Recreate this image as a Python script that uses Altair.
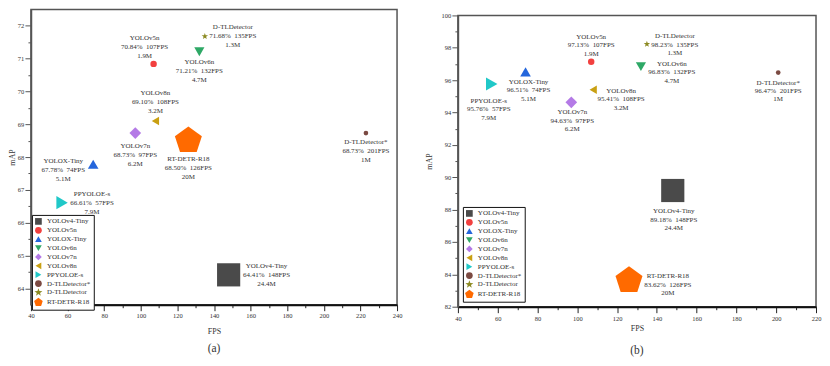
import math
import altair as alt
import pandas as pd

# ---------------- data ----------------
models = ["YOLOv4-Tiny", "YOLOv5n", "YOLOX-Tiny", "YOLOv6n", "YOLOv7n",
          "YOLOv8n", "PPYOLOE-s", "D-TLDetector*", "D-TLDetector", "RT-DETR-R18"]
fps = [148, 107, 74, 132, 97, 108, 57, 201, 135, 126]
fps_pos_a = [148, 107, 74, 132, 97, 108, 57, 223, 135, 126]   # where points sit in panel (a)
map_a = [64.41, 70.84, 67.78, 71.21, 68.73, 69.10, 66.61, 68.73, 71.68, 68.50]
map_b = [89.18, 97.13, 96.51, 96.83, 94.63, 95.41, 95.76, 96.47, 98.23, 83.62]
params = [24.4, 1.9, 5.1, 4.7, 6.2, 3.2, 7.9, 1.0, 1.3, 20.0]
params_txt = ["24.4M", "1.9M", "5.1M", "4.7M", "6.2M", "3.2M", "7.9M", "1M", "1.3M", "20M"]

xticks_a = list(range(40, 241, 10))
yticks_a = [64 + 0.5 * i for i in range(17)]
xticks_b = list(range(40, 221, 10))
yticks_b = list(range(82, 101, 1))

# ---------------- styles ----------------
colors = ["#4a4a4a", "#f2403f", "#2466dc", "#2ea866", "#b47ae6",
          "#c9a012", "#20c8c8", "#7b4a42", "#8c8a22", "#ff6a00"]


def star_path(ro=1.25, ri=0.5):
    pts = []
    for k in range(10):
        r = ro if k % 2 == 0 else ri
        a = -math.pi / 2 + k * math.pi / 5
        pts.append((r * math.cos(a), r * math.sin(a)))
    return "M" + "L".join(f"{x:.3f},{y:.3f}" for x, y in pts) + "Z"


def pentagon_path(R=1.35):
    pts = []
    for k in range(5):
        a = -math.pi / 2 + k * 2 * math.pi / 5
        pts.append((R * math.cos(a), R * math.sin(a)))
    return "M" + "L".join(f"{x:.3f},{y:.3f}" for x, y in pts) + "Z"


shapes = ["square", "circle", "triangle-up", "triangle-down", "diamond",
          "triangle-left", "triangle-right", "circle", star_path(), pentagon_path()]

FONT = "Liberation Serif"
TXT = "#333333"
SP = "\u00a0\u00a0"

# label offsets (dx, dy of the first text line) per model
off_a = [(38, -9), (-9, -26), (-30, -3), (0, 10), (0, 13), (0, -28), (30, -9), (0, 9), (28, -9), (0, 18)]
off_b = [(1, 21), (0, -25), (3, 10), (31, -3), (1, 10), (28, 1), (-3, 17), (0, 10), (28, -8), (39, -4)]


def make_df(xpos, mp):
    return pd.DataFrame({
        "model": models,
        "x": xpos,
        "y": mp,
        "params": params,
        "label": [f"{m}\n{v:.2f}%{SP}{f}FPS\n{p}" for m, v, f, p in zip(models, mp, fps, params_txt)],
    })


def panel(df, xdom, ydom, xvals, yvals, xmajor, ymajor, yfmt, w, h, offs, lh,
          title, lx, ly, ytitle_pad, xlab_pad, xtitle_pad, title_off):
    xs = alt.Scale(domain=xdom, nice=False, zero=False)
    ys = alt.Scale(domain=ydom, nice=False, zero=False)
    xaxis = alt.Axis(
        values=xvals, format="d", title="FPS",
        labelExpr=f"datum.value % {xmajor} === 0 ? datum.label : ''",
        tickSize={"condition": {"test": f"datum.value % {xmajor} === 0", "value": 6}, "value": 3},
        grid=False, domainColor="#111111", domainWidth=2, tickColor="#222222", tickWidth=1,
        labelFont=FONT, labelFontSize=6.5, labelColor=TXT, labelPadding=xlab_pad,
        titleFont=FONT, titleFontSize=8, titleFontWeight="normal", titleColor=TXT,
        titlePadding=xtitle_pad, labelOverlap=False, labelFlush=False,
    )
    yaxis = alt.Axis(
        values=yvals, format=yfmt, title="mAP",
        labelExpr=f"datum.value % {ymajor} === 0 ? datum.label : ''",
        tickSize={"condition": {"test": f"datum.value % {ymajor} === 0", "value": 6}, "value": 3},
        grid=False, domainColor="#555555", domainWidth=1.6, tickColor="#555555", tickWidth=1,
        labelFont=FONT, labelFontSize=6.5, labelColor=TXT, labelPadding=1.2,
        titleFont=FONT, titleFontSize=8, titleFontWeight="normal", titleColor=TXT,
        titlePadding=ytitle_pad, labelOverlap=False, labelFlush=False,
    )
    leg = alt.Legend(
        orient="none", legendX=lx, legendY=ly, title=None,
        strokeColor="#111111", padding=3, symbolSize=45, symbolStrokeWidth=0,
        labelFont=FONT, labelFontSize=7, labelColor=TXT, rowPadding=0.9,
        labelOffset=5, fillColor="white",
    )
    base = alt.Chart(df)
    X = alt.X("x:Q", scale=xs, axis=xaxis, title="FPS")
    Y = alt.Y("y:Q", scale=ys, axis=yaxis, title="mAP")
    pts = base.mark_point(filled=True, opacity=1, strokeWidth=0).encode(
        x=X, y=Y,
        color=alt.Color("model:N", scale=alt.Scale(domain=models, range=colors), legend=leg, sort=models),
        shape=alt.Shape("model:N", scale=alt.Scale(domain=models, range=shapes), legend=leg, sort=models),
        size=alt.Size("params:Q", scale=alt.Scale(domain=[0, 24.4], range=[0, 540]), legend=None),
    )
    layers = [pts]
    for m, (dx, dy) in zip(models, offs):
        layers.append(
            base.transform_filter(alt.datum.model == m).mark_text(
                dx=dx, dy=dy, lineBreak="\n", lineHeight=lh, fontSize=7, font=FONT,
                color=TXT, align="center", baseline="middle",
            ).encode(x=X, y=Y, text="label:N")
        )
    return alt.layer(*layers).properties(
        width=w, height=h,
        title=alt.TitleParams(title, orient="bottom", font=FONT, fontSize=11.5,
                              fontWeight="normal", color=TXT, offset=title_off),
    )


pa = panel(make_df(fps_pos_a, map_a), [40, 240], [63.5, 72.5], xticks_a, yticks_a, 20, 1, ".0f",
           367, 296, off_a, 9, "(a)", 1, 206, 0.5, 2, 8, 8)
pb = panel(make_df(fps, map_b), [40, 220], [82, 100], xticks_b, yticks_b, 20, 2, "d",
           359, 292, off_b, 8.5, "(b)", 5, 198, 8, 2.5, 2.5, 13)

# invisible 1-px spacer that lowers panel (b) a little, as in the reference
spacer = alt.Chart(pd.DataFrame({"v": [0]})).mark_point(opacity=0, size=0).encode(
    x=alt.value(0), y=alt.value(0)
).properties(width=1, height=1, view=alt.ViewBackground(stroke="transparent"))

chart = alt.hconcat(pa, alt.vconcat(spacer, pb, spacing=0), spacing=21).resolve_scale(
    color="independent", shape="independent", size="independent"
).resolve_legend(
    color="independent", shape="independent"
).configure(
    padding={"left": 0, "top": 0, "right": 0, "bottom": 0},
).configure_view(stroke="#555555", strokeWidth=1.5).configure_axis(labelOverlap=False)

chart.save("out.html", embed_options={"renderer": "svg", "actions": False})
